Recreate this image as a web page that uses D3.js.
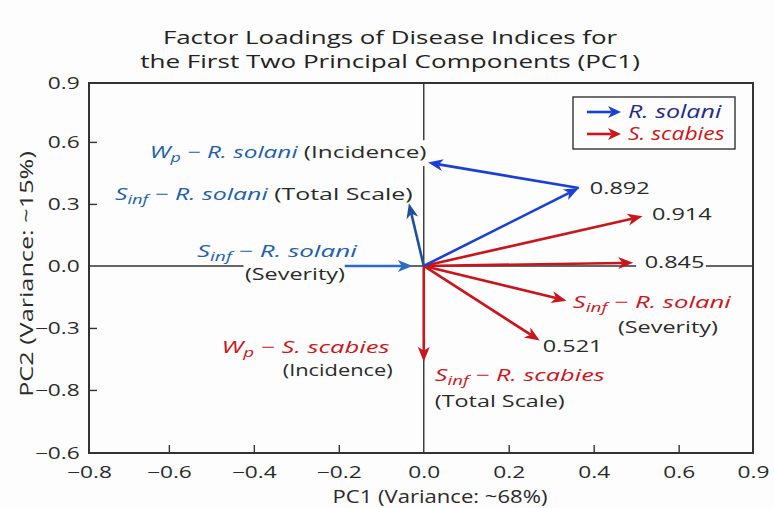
<!DOCTYPE html>
<html>
<head>
<meta charset="utf-8">
<script src="https://cdn.jsdelivr.net/npm/d3@7"></script>
<style>
  body { margin: 0; background: #fff; }
  text { font-family: "Open Sans", sans-serif; white-space: pre; }
</style>
</head>
<body>
<svg id="chart" width="774" height="508"></svg>
<script>
// ---- data ----
const titleLines = ["Factor Loadings of Disease Indices for", "the First Two Principal Components (PC1)"];
const xTitle = "PC1 (Variance: ~68%)";
const yTitle = "PC2 (Variance: ~15%)";

// the figure labels its frame edges with odd values, so edges get their own tick
const xTickValues = [-0.788, -0.6, -0.4, -0.2, 0, 0.2, 0.4, 0.6, 0.775];
const xTickLabels = ["−0.8", "−0.6", "−0.4", "−0.2", "0.0", "0.2", "0.4", "0.6", "0.9"];
const yTickValues = [0.885, 0.6, 0.3, 0, -0.3, -0.6, -0.905];
const yTickLabels = ["0.9", "0.6", "0.3", "0.0", "−0.3", "−0.8", "−0.6"];

// R. solani arrows (start -> end)
const rSolaniStartX = [0, 0.365, 0, -0.186];
const rSolaniStartY = [0, 0.377, 0, 0];
const rSolaniEndX = [0.365, 0.010, -0.035, -0.026];
const rSolaniEndY = [0.377, 0.500, 0.303, 0.000];

// S. scabies arrows (all from the origin)
const sScabiesEndX = [0.515, 0.493, 0.336, 0.273, 0.000];
const sScabiesEndY = [0.240, 0.015, -0.168, -0.361, -0.463];

const loadingValues = ["0.892", "0.914", "0.845", "0.521"];
const legendNames = ["R. solani", "S. scabies"];

// ---- layout / style ----
const blue = "#1b3fd4", blueDark = "#1d5098", blueLight = "#2c6cc2";
const red = "#c8161d", labelBlue = "#1f5fa8", ink = "#2a2a2a";
const rSolaniColors = [blue, blue, blueDark, blueLight];
const numSx = 1.42;

// anchors (data units) for the loading numbers
const loadingX = [0.391, 0.537, 0.520, 0.280];
const loadingY = [0.348, 0.223, -0.012, -0.416];

// variable labels: parts are [text, kind]; kind i = italic coloured, s = subscript, n = plain
// w = width the label takes in the figure (px)
const varLabels = [
  { x: -0.645, y: 0.522, w: 277, c: labelBlue, bg: true, parts: [["W", "i"], ["p", "s"], [" − R. solani ", "i"], ["(Incidence)", "n"]] },
  { x: -0.727, y: 0.319, w: 298, c: labelBlue, parts: [["S", "i"], ["inf", "s"], [" − R. solani ", "i"], ["(Total Scale)", "n"]] },
  { x: -0.534, y: 0.041, w: 161, c: labelBlue, parts: [["S", "i"], ["inf", "s"], [" − R. solani", "i"]] },
  { x: -0.421, y: -0.070, w: 100, c: labelBlue, bg: true, parts: [["(Severity)", "n"]] },
  { x: 0.351, y: -0.203, w: 159, c: red, parts: [["S", "i"], ["inf", "s"], [" − R. solani", "i"]] },
  { x: 0.457, y: -0.326, w: 100, c: red, parts: [["(Severity)", "n"]] },
  { x: -0.476, y: -0.421, w: 168, c: red, parts: [["W", "i"], ["p", "s"], [" − S. scabies", "i"]] },
  { x: -0.332, y: -0.534, w: 110, c: red, parts: [["(Incidence)", "n"]] },
  { x: 0.026, y: -0.556, w: 170, c: red, parts: [["S", "i"], ["inf", "s"], [" − R. scabies", "i"]] },
  { x: 0.026, y: -0.684, w: 130, c: red, parts: [["(Total Scale)", "n"]] }
];

const svg = d3.select("#chart");
svg.append("rect").attr("width", 774).attr("height", 508).attr("fill", "#fdfdfd");

const x = d3.scaleLinear().domain([-0.788, 0.775]).range([89, 753]);
const y = d3.scaleLinear().domain([-0.905, 0.885]).range([453, 83]);

// stretch a text horizontally so it spans w pixels (the figure's type is wide)
function fitWidth(textSel, w) {
  const natural = textSel.node().getBBox().width;
  return w / natural;
}

// title
titleLines.forEach((line, i) => {
  const t = svg.append("text")
    .attr("text-anchor", "middle")
    .style("font-size", "19px")
    .attr("fill", "#222")
    .text(line);
  const sx = fitWidth(t, i === 0 ? 455 : 500);
  t.attr("transform", `translate(390,${44 + i * 24}) scale(${sx},1)`);
});

// zero lines
svg.append("line")
  .attr("x1", x.range()[0]).attr("x2", x.range()[1])
  .attr("y1", y(0)).attr("y2", y(0))
  .attr("stroke", "#333").attr("stroke-width", 1.4);
svg.append("line")
  .attr("x1", x(0)).attr("x2", x(0))
  .attr("y1", y.range()[0]).attr("y2", y.range()[1])
  .attr("stroke", "#333").attr("stroke-width", 1.4);

// axes with inward ticks
const edgeX = d => d === xTickValues[0] || d === xTickValues[xTickValues.length - 1] || d === 0;
const edgeY = d => d === yTickValues[0] || d === yTickValues[yTickValues.length - 1] || d === 0;

svg.append("g")
  .attr("transform", `translate(0,${y.range()[0]})`)
  .call(d3.axisBottom(x)
    .tickValues(xTickValues)
    .tickFormat((d, i) => xTickLabels[i])
    .tickSizeInner(-8).tickSizeOuter(0).tickPadding(14))
  .call(g => g.select(".domain").remove())
  .call(g => g.selectAll(".tick line").attr("stroke", "#333").attr("stroke-width", 1.4)
    .filter(edgeX).remove())
  .call(g => g.selectAll("text")
    .attr("transform", `scale(${numSx},1)`)
    .style("font-size", "16px").attr("fill", ink));

svg.append("g")
  .attr("transform", `translate(${x.range()[0]},0)`)
  .call(d3.axisLeft(y)
    .tickValues(yTickValues)
    .tickFormat((d, i) => yTickLabels[i])
    .tickSizeInner(-8).tickSizeOuter(0).tickPadding(6.5))
  .call(g => g.select(".domain").remove())
  .call(g => g.selectAll(".tick line").attr("stroke", "#333").attr("stroke-width", 1.4)
    .filter(edgeY).remove())
  .call(g => g.selectAll("text")
    .attr("transform", `scale(${numSx},1)`)
    .style("font-size", "16px").attr("fill", ink));

// frame
svg.append("rect")
  .attr("x", x.range()[0]).attr("y", y.range()[1])
  .attr("width", x.range()[1] - x.range()[0])
  .attr("height", y.range()[0] - y.range()[1])
  .attr("fill", "none").attr("stroke", "#333").attr("stroke-width", 2);

// axis titles
const xt = svg.append("text")
  .attr("text-anchor", "middle")
  .style("font-size", "17.5px").attr("fill", ink)
  .text(xTitle);
xt.attr("transform", `translate(440,503) scale(${fitWidth(xt, 215)},1)`);
const yt = svg.append("text")
  .attr("text-anchor", "middle")
  .style("font-size", "18px").attr("fill", ink)
  .text(yTitle);
yt.attr("transform", `translate(33,274) rotate(-90) scale(${fitWidth(yt, 246)},1)`);

// variable labels (some have a white box that hides the zero lines)
const labelLayer = svg.append("g");
varLabels.forEach(lb => {
  const g = labelLayer.append("g");
  const t = g.append("text").style("font-size", "17px");
  lb.parts.forEach(([txt, kind], i) => {
    const ts = t.append("tspan").text(txt);
    if (kind === "n") ts.attr("fill", ink);
    else ts.attr("fill", lb.c).style("font-style", "italic");
    if (kind === "s") ts.attr("dy", 4).style("font-size", "12.5px");
    else if (i > 0 && lb.parts[i - 1][1] === "s") ts.attr("dy", -4);
  });
  g.attr("transform", `translate(${x(lb.x)},${y(lb.y)}) scale(${fitWidth(t, lb.w)},1)`);
  if (lb.bg) {
    const b = t.node().getBBox();
    g.insert("rect", "text")
      .attr("x", b.x - 1).attr("y", b.y)
      .attr("width", b.width + 2).attr("height", b.height)
      .attr("fill", "#fdfdfd");
  }
});

// loading numbers
labelLayer.selectAll(".loading")
  .data(loadingValues)
  .enter()
  .append("g")
  .attr("class", "loading")
  .attr("transform", (d, i) => `translate(${x(loadingX[i])},${y(loadingY[i])}) scale(${numSx},1)`)
  .each(function (d) {
    const g = d3.select(this);
    const t = g.append("text").style("font-size", "16.5px").attr("fill", ink).text(d);
    if (d === "0.845") {
      const b = t.node().getBBox();
      g.insert("rect", "text").attr("x", b.x - 6).attr("y", b.y)
        .attr("width", b.width + 7).attr("height", b.height).attr("fill", "#fdfdfd");
    }
  });

// arrows
function arrow(layer, px0, py0, px1, py1, color, len = 15, half = 6) {
  const a = Math.atan2(py1 - py0, px1 - px0);
  const cx = Math.cos(a), cy = Math.sin(a);
  const bx = px1 - len * cx, by = py1 - len * cy;
  const nx = px1 - len * 0.72 * cx, ny = py1 - len * 0.72 * cy;
  layer.append("line")
    .attr("x1", px0).attr("y1", py0).attr("x2", nx).attr("y2", ny)
    .attr("stroke", color).attr("stroke-width", 2.6);
  layer.append("path")
    .attr("d", `M${px1},${py1}L${bx - half * cy},${by + half * cx}L${nx},${ny}L${bx + half * cy},${by - half * cx}Z`)
    .attr("fill", color);
}

const arrowLayer = svg.append("g");
sScabiesEndX.forEach((ex, i) => {
  arrow(arrowLayer, x(0), y(0), x(ex), y(sScabiesEndY[i]), red);
});
rSolaniEndX.forEach((ex, i) => {
  arrow(arrowLayer, x(rSolaniStartX[i]), y(rSolaniStartY[i]), x(ex), y(rSolaniEndY[i]), rSolaniColors[i]);
});

// legend
const legend = svg.append("g").attr("transform", "translate(573,97)");
legend.append("rect")
  .attr("width", 162).attr("height", 52)
  .attr("fill", "#fdfdfd").attr("stroke", "#333").attr("stroke-width", 1.4);
legendNames.forEach((name, i) => {
  const col = i === 0 ? blue : red;
  arrow(legend, 14, 15 + i * 22, 48, 15 + i * 22, col, 13, 6);
  const t = legend.append("text")
    .style("font-size", "18px").style("font-style", "italic")
    .attr("fill", i === 0 ? "#1f2a8a" : red)
    .text(name);
  t.attr("transform", `translate(55,${21 + i * 22}) scale(${fitWidth(t, i === 0 ? 94 : 97)},1)`);
});
</script>
</body>
</html>
